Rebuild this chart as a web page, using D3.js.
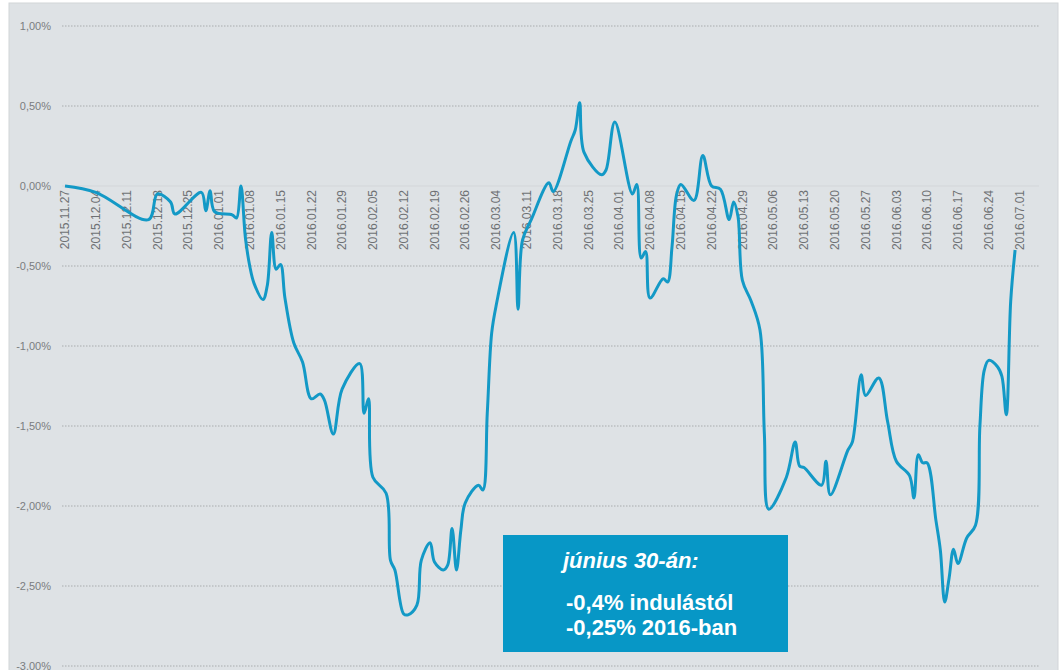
<!DOCTYPE html>
<html>
<head>
<meta charset="utf-8">
<script src="https://cdn.jsdelivr.net/npm/d3@7"></script>
<style>
  body { margin: 0; background: #fff; }
  svg { display: block; }
</style>
</head>
<body>
<div id="chart"></div>
<script>
// daily relative performance (%)
var dates = [
  "2015-11-27","2015-12-04","2015-12-16","2015-12-18","2015-12-21","2015-12-22","2015-12-28","2015-12-29",
  "2015-12-30","2015-12-31","2016-01-04","2016-01-05","2016-01-06","2016-01-07","2016-01-08","2016-01-09",
  "2016-01-11","2016-01-12","2016-01-13","2016-01-14","2016-01-15","2016-01-16","2016-01-18","2016-01-20",
  "2016-01-22","2016-01-24","2016-01-25","2016-01-27","2016-01-29","2016-02-02","2016-02-03","2016-02-04",
  "2016-02-05","2016-02-08","2016-02-09","2016-02-10","2016-02-12","2016-02-13","2016-02-15","2016-02-16",
  "2016-02-18","2016-02-19","2016-02-21","2016-02-22","2016-02-23","2016-02-24","2016-02-25","2016-02-26",
  "2016-02-29","2016-03-01","2016-03-02","2016-03-03","2016-03-04","2016-03-08","2016-03-09","2016-03-10",
  "2016-03-12","2016-03-16","2016-03-17","2016-03-21","2016-03-22","2016-03-23","2016-03-24","2016-03-28",
  "2016-03-29","2016-03-31","2016-04-04","2016-04-05","2016-04-06","2016-04-07","2016-04-08","2016-04-11",
  "2016-04-12","2016-04-13","2016-04-14","2016-04-15","2016-04-18","2016-04-20","2016-04-22","2016-04-24",
  "2016-04-26","2016-04-27","2016-04-28","2016-04-29","2016-05-01","2016-05-03","2016-05-04","2016-05-05",
  "2016-05-09","2016-05-11","2016-05-12","2016-05-13","2016-05-17","2016-05-18","2016-05-19","2016-05-23",
  "2016-05-24","2016-05-26","2016-05-27","2016-05-30","2016-06-01","2016-06-03","2016-06-06","2016-06-07",
  "2016-06-08","2016-06-09","2016-06-10","2016-06-12","2016-06-13","2016-06-14","2016-06-15","2016-06-16",
  "2016-06-17","2016-06-19","2016-06-21","2016-06-22","2016-06-23","2016-06-24","2016-06-26","2016-06-27",
  "2016-06-28","2016-06-29","2016-06-30"
];
var values = [
  0.00,-0.04,-0.21,-0.05,-0.10,-0.175,-0.04,-0.155,
  -0.03,-0.16,-0.18,-0.20,0.00,-0.32,-0.50,-0.61,
  -0.71,-0.62,-0.29,-0.52,-0.49,-0.70,-0.98,-1.10,
  -1.33,-1.30,-1.34,-1.55,-1.27,-1.11,-1.42,-1.33,
  -1.82,-1.92,-2.34,-2.40,-2.675,-2.68,-2.62,-2.34,
  -2.23,-2.35,-2.40,-2.37,-2.14,-2.40,-2.15,-1.98,
  -1.87,-1.90,-1.42,-0.92,-0.75,-0.29,-0.77,-0.34,
  -0.21,0.02,-0.035,0.28,0.35,0.52,0.21,0.07,
  0.10,0.40,-0.05,0.01,-0.45,-0.41,-0.70,-0.58,
  -0.60,-0.38,-0.06,0.01,-0.09,0.19,0.00,-0.02,
  -0.21,-0.10,-0.19,-0.59,-0.72,-0.90,-1.55,-2.02,
  -1.82,-1.60,-1.75,-1.76,-1.87,-1.72,-1.93,-1.65,
  -1.60,-1.18,-1.31,-1.20,-1.47,-1.72,-1.81,-1.95,
  -1.68,-1.73,-1.73,-2.09,-2.275,-2.60,-2.45,-2.27,
  -2.36,-2.20,-2.12,-1.50,-1.15,-1.09,-1.13,-1.19,
  -1.43,-0.72,-0.40
];
var xTickLabels = [
  "2015.11.27","2015.12.04","2015.12.11","2015.12.18","2015.12.25","2016.01.01","2016.01.08","2016.01.15",
  "2016.01.22","2016.01.29","2016.02.05","2016.02.12","2016.02.19","2016.02.26","2016.03.04","2016.03.11",
  "2016.03.18","2016.03.25","2016.04.01","2016.04.08","2016.04.15","2016.04.22","2016.04.29","2016.05.06",
  "2016.05.13","2016.05.20","2016.05.27","2016.06.03","2016.06.10","2016.06.17","2016.06.24","2016.07.01"
];
var yTicks = [1, 0.5, 0, -0.5, -1, -1.5, -2, -2.5, -3];
var noteLines = ["június 30-án:", "-0,4% indulástól", "-0,25% 2016-ban"];

var W = 1062, H = 670;
var parseDate = d3.utcParse("%Y-%m-%d");
var parseTick = d3.utcParse("%Y.%m.%d");
var data = dates.map(function(d, i) { return {date: parseDate(d), value: values[i]}; });

var huLocale = d3.formatLocale({decimal: ",", thousands: " ", grouping: [3], currency: ["", " Ft"], minus: "-"});
var fmt = function(v) { return huLocale.format(".2f")(v) + "%"; };

var svg = d3.select("#chart").append("svg")
    .attr("width", W).attr("height", H);

// grey panel
svg.append("rect")
    .attr("x", 9).attr("y", 3)
    .attr("width", 1049).attr("height", 680)
    .attr("fill", "#dee2e5")
    .attr("stroke", "#d2d5d8");

var x = d3.scaleUtc()
    .domain([parseTick(xTickLabels[0]), parseTick(xTickLabels[xTickLabels.length - 1])])
    .range([65, 1019.5]);
var y = d3.scaleLinear().domain([-3, 1]).range([666, 26]);

// gridlines
svg.append("g").selectAll("line")
  .data(yTicks.filter(function(d) { return d !== 0; }))
  .enter().append("line")
    .attr("x1", 62).attr("x2", 1039)
    .attr("y1", function(d) { return y(d); })
    .attr("y2", function(d) { return y(d); })
    .attr("stroke", "#a9acae")
    .attr("stroke-width", 1)
    .attr("stroke-dasharray", "1.5,1.5");

// zero axis line
svg.append("line")
    .attr("x1", 62).attr("x2", 1039)
    .attr("y1", y(0)).attr("y2", y(0))
    .attr("stroke", "#d3d6d9").attr("stroke-width", 1);

// y labels
svg.append("g").selectAll("text")
  .data(yTicks)
  .enter().append("text")
    .attr("x", 51)
    .attr("y", function(d) { return y(d); })
    .attr("dy", "0.35em")
    .attr("text-anchor", "end")
    .attr("font-family", "Liberation Sans, Arial, sans-serif")
    .attr("font-size", "11px")
    .attr("fill", "#7a7d80")
    .text(fmt);

// x labels (rotated)
svg.append("g").selectAll("text")
  .data(xTickLabels)
  .enter().append("text")
    .attr("transform", function(d) { return "translate(" + x(parseTick(d)) + "," + 190 + ") rotate(-90)"; })
    .attr("dy", "0.35em")
    .attr("text-anchor", "end")
    .attr("font-family", "Liberation Sans, Arial, sans-serif")
    .attr("font-size", "12px")
    .attr("fill", "#6e7174")
    .text(function(d) { return d; });

// the line
var line = d3.line()
    .x(function(d) { return x(d.date); })
    .y(function(d) { return y(d.value); })
    .curve(d3.curveCatmullRom.alpha(0.5));

svg.append("path")
    .datum(data)
    .attr("fill", "none")
    .attr("stroke", "#1399c6")
    .attr("stroke-width", 3)
    .attr("stroke-linejoin", "round")
    .attr("d", line);

// annotation box
var note = svg.append("g");
note.append("rect")
    .attr("x", 503).attr("y", 535)
    .attr("width", 285).attr("height", 117)
    .attr("fill", "#0797c6");
note.append("text")
    .attr("x", 563).attr("y", 568)
    .attr("font-family", "Liberation Sans, Arial, sans-serif")
    .attr("font-size", "22px")
    .attr("font-weight", "bold")
    .attr("font-style", "italic")
    .attr("fill", "#fff")
    .text(noteLines[0]);
note.selectAll("text.l")
  .data(noteLines.slice(1))
  .enter().append("text")
    .attr("class", "l")
    .attr("x", 566)
    .attr("y", function(d, i) { return 610 + i * 25; })
    .attr("font-family", "Liberation Sans, Arial, sans-serif")
    .attr("font-size", "22px")
    .attr("font-weight", "bold")
    .attr("fill", "#fff")
    .text(function(d) { return d; });
</script>
</body>
</html>
